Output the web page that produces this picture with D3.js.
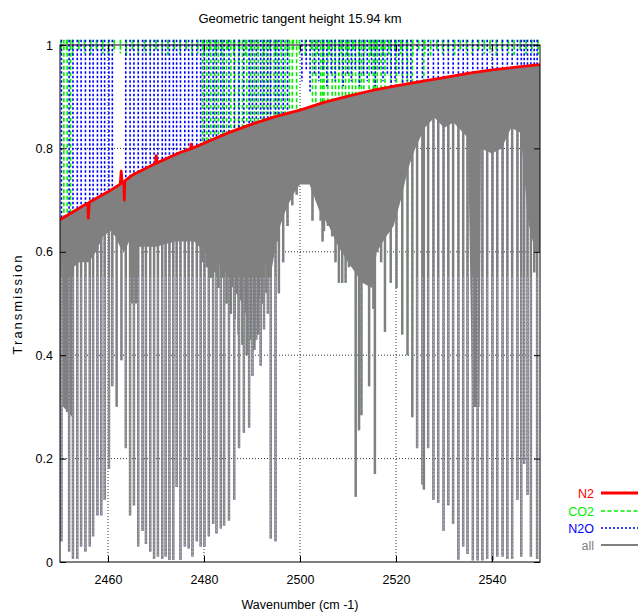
<!DOCTYPE html>
<html>
<head>
<meta charset="utf-8">
<script src="https://cdn.jsdelivr.net/npm/d3@7"></script>
<style>
  body { margin: 0; background: #fff; }
  svg { font-family: "Liberation Sans", Arial, sans-serif; }
</style>
</head>
<body>
<div id="chart"></div>
<script>
// Transmission spectrum, tangent height 15.94 km
// values (wavenumber in cm-1, transmission 0..1)

const xTicks = [2460, 2480, 2500, 2520, 2540];
const yTicks = [0, 0.2, 0.4, 0.6, 0.8, 1];
const yTickLabels = ['0', '0.2', '0.4', '0.6', '0.8', '1'];

// N2 continuum (with its few small lines)
const n2Wn = [2450, 2455, 2455.8, 2455.9, 2456.0, 2456.1, 2460, 2462.55, 2462.75, 2462.95, 2463.3, 2463.4, 2463.5,
  2465, 2469.9, 2470.05, 2470.2, 2475, 2477.2, 2477.35, 2477.5, 2480, 2485, 2490, 2495, 2500, 2505, 2510,
  2515, 2520, 2525, 2530, 2535, 2540, 2545, 2550];
const n2T = [0.662, 0.690, 0.694, 0.665, 0.680, 0.696, 0.716, 0.731, 0.756, 0.733, 0.735, 0.700, 0.737,
  0.748, 0.771, 0.786, 0.772, 0.792, 0.799, 0.808, 0.800, 0.810, 0.830, 0.847, 0.862, 0.874, 0.889, 0.901,
  0.912, 0.921, 0.929, 0.937, 0.945, 0.952, 0.957, 0.962];

// N2O lines: centre and minimum transmission of the combined trace
const n2oWn = [2450.3, 2451.9, 2452.7, 2453.6, 2454.4, 2455.3, 2456.2, 2456.9, 2457.8, 2458.6, 2459.3, 2460.2, 2460.9,
  2463.7, 2464.6, 2465.4, 2466.3, 2467.2, 2467.9, 2468.8, 2469.6, 2470.4, 2471.3,
  2472.0, 2472.8, 2473.6, 2474.3, 2475.1, 2476.0, 2476.8, 2477.6, 2478.5, 2479.3,
  2480.1, 2481.0, 2481.9, 2482.6, 2483.5, 2484.2, 2485.2, 2486.3, 2487.3, 2488.3,
  2489.4, 2490.1, 2490.9, 2491.8, 2492.5, 2493.3, 2493.9, 2494.9, 2495.6, 2496.5, 2497.4,
  2524.4, 2525.5, 2526.7, 2527.8, 2528.8, 2529.9, 2530.9, 2531.9, 2533.0, 2534.0,
  2534.9, 2536.0, 2537.0, 2538.0, 2539.0, 2540.1, 2541.1, 2542.2, 2543.2, 2544.2,
  2545.3, 2546.1, 2546.7, 2547.4, 2548.1, 2548.8, 2549.4];
const n2oMin = [0.04, 0.02, 0.006, 0.006, 0.03, 0.02, 0.03, 0.05, 0.09, 0.09, 0.12, 0.18, 0.34,
  0.22, 0.09, 0.11, 0.03, 0.06, 0.035, 0.02, 0.006, 0.01, 0.006,
  0.01, 0.004, 0.004, 0.145, 0.004, 0.03, 0.026, 0.01, 0.04, 0.03,
  0.03, 0.05, 0.074, 0.055, 0.065, 0.07, 0.08, 0.12, 0.22, 0.25,
  0.26, 0.36, 0.43, 0.38, 0.45, 0.48, 0.045, 0.04, 0.52, 0.58, 0.65,
  0.22, 0.15, 0.22, 0.12, 0.114, 0.06, 0.11, 0.074, 0.005, 0.03,
  0.016, 0.003, 0.003, 0.003, 0.006, 0.003, 0.01, 0.01, 0.006, 0.006,
  0.12, 0.01, 0.19, 0.13, 0.01, 0.56, 0.006];

// weak N2O lines between the two bands (only their upper part shows)
const n2oWeakWn = [2500.4, 2501.3, 2502.1, 2503.0, 2503.9, 2504.8, 2505.6, 2506.5, 2507.3, 2508.2,
  2509.0, 2509.9, 2510.7, 2511.5, 2512.4, 2513.2, 2514.0, 2514.9, 2515.7, 2516.5,
  2517.3, 2518.2, 2519.0, 2519.8, 2520.6, 2521.4, 2522.3, 2523.1];
const n2oWeakMin = [0.93, 0.95, 0.91, 0.94, 0.93, 0.95, 0.92, 0.94, 0.93, 0.95,
  0.92, 0.94, 0.93, 0.95, 0.92, 0.94, 0.93, 0.94, 0.92, 0.95,
  0.93, 0.94, 0.92, 0.93, 0.94, 0.92, 0.93, 0.92];

// CO2 lines
const co2Wn = [2450.8, 2451.5, 2452.2,
  2479.7, 2480.6, 2481.4, 2482.2, 2483.0, 2483.9, 2484.7, 2485.6, 2486.4, 2487.2,
  2488.0, 2488.9, 2489.7, 2490.5, 2491.3, 2492.2, 2493.0, 2493.8, 2494.6, 2495.3,
  2496.1, 2496.9, 2497.8, 2498.4, 2499.3,
  2502.6, 2503.3, 2504.3, 2504.7, 2505.0, 2505.8, 2506.7, 2507.4, 2508.1, 2508.8,
  2509.5, 2510.2, 2510.9, 2511.6, 2512.3, 2512.8, 2513.3, 2514.4, 2515.3, 2515.6,
  2516.1, 2516.9, 2517.7, 2518.9, 2520.1, 2521.3, 2522.4, 2523.4, 2525.8];
const co2Min = [0.30, 0.29, 0.30,
  0.58, 0.57, 0.55, 0.56, 0.53, 0.55, 0.50, 0.48, 0.47, 0.44,
  0.42, 0.40, 0.43, 0.41, 0.44, 0.50, 0.52, 0.55, 0.60, 0.62,
  0.66, 0.68, 0.70, 0.69, 0.71,
  0.66, 0.71, 0.66, 0.62, 0.64, 0.65, 0.63, 0.58, 0.54, 0.54,
  0.54, 0.57, 0.58, 0.126, 0.255, 0.284, 0.56, 0.34, 0.49, 0.17,
  0.60, 0.58, 0.445, 0.54, 0.53, 0.44, 0.40, 0.28, 0.14];

// weak CO2 lines making the fringe along the top
const co2WeakWn = [2450.2, 2451.4, 2452.6, 2453.9, 2455.1, 2456.4, 2457.6, 2458.9, 2460.1, 2461.3,
  2462.6, 2463.8, 2465.1, 2466.3, 2467.6, 2468.8, 2470.0, 2471.3, 2472.5, 2473.8,
  2475.0, 2476.3, 2477.5, 2478.7, 2480.0, 2481.2, 2482.5, 2483.7, 2485.0, 2486.2,
  2487.4, 2488.7, 2489.9, 2491.2, 2492.4, 2493.7, 2494.9, 2496.1, 2497.4, 2498.6,
  2499.9, 2501.1, 2502.4, 2503.6, 2504.8, 2506.1, 2507.3, 2508.6, 2509.8, 2511.1,
  2512.3, 2513.5, 2514.8, 2516.0, 2517.3, 2518.5, 2519.8, 2521.0, 2522.2, 2523.5,
  2524.7, 2526.0, 2527.2, 2528.5, 2529.7, 2530.9, 2532.2, 2533.4, 2534.7, 2535.9,
  2537.2, 2538.4, 2539.6, 2540.9, 2542.1, 2543.4, 2544.6, 2545.9, 2547.1, 2548.3, 2549.6];
const co2WeakMin = [0.982, 0.986, 0.979, 0.988, 0.984, 0.981, 0.987, 0.983, 0.980, 0.986,
  0.984, 0.979, 0.987, 0.982, 0.985, 0.981, 0.988, 0.983, 0.980, 0.986,
  0.982, 0.987, 0.979, 0.984, 0.981, 0.986, 0.983, 0.980, 0.987, 0.982,
  0.985, 0.979, 0.986, 0.983, 0.981, 0.987, 0.982, 0.985, 0.980, 0.986,
  0.983, 0.979, 0.987, 0.982, 0.985, 0.980, 0.986, 0.983, 0.981, 0.987,
  0.982, 0.985, 0.979, 0.986, 0.983, 0.981, 0.987, 0.982, 0.985, 0.980,
  0.986, 0.983, 0.979, 0.987, 0.982, 0.985, 0.980, 0.986, 0.983, 0.981,
  0.987, 0.982, 0.985, 0.979, 0.986, 0.983, 0.980, 0.987, 0.982, 0.985, 0.981];

// lines seen only in the combined trace, near the N2O band centre
const allOnlyWn = [2461.8, 2462.8];
const allOnlyMin = [0.30, 0.39];

// lower edge of the solid band of weak overlapping lines in the combined trace
const floorWn = [2450, 2450.5, 2450.7, 2452.6, 2452.8, 2454, 2456, 2457.5, 2459, 2460.5,
  2461.5, 2462.5, 2463.4, 2464.4, 2464.7, 2466.1, 2466.4, 2470, 2474, 2478,
  2480, 2482, 2484, 2486, 2488, 2489.5, 2491, 2492.5, 2494, 2495.5,
  2497, 2498.5, 2500, 2502, 2504, 2506, 2508, 2510, 2511.5, 2513,
  2515, 2516, 2518, 2519.5, 2521, 2522.5, 2524, 2526, 2528, 2530,
  2532, 2535, 2535.9, 2537.4, 2537.7, 2540, 2542, 2544, 2546, 2547.5, 2549, 2550];
const floorT = [0.60, 0.58, 0.30, 0.28, 0.57, 0.58, 0.58, 0.60, 0.63, 0.64,
  0.63, 0.61, 0.60, 0.62, 0.50, 0.50, 0.61, 0.61, 0.62, 0.62,
  0.60, 0.58, 0.57, 0.53, 0.50, 0.46, 0.47, 0.58, 0.56, 0.64,
  0.68, 0.71, 0.73, 0.73, 0.68, 0.65, 0.61, 0.58, 0.56, 0.54,
  0.53, 0.60, 0.63, 0.65, 0.70, 0.76, 0.80, 0.84, 0.86, 0.84,
  0.85, 0.82, 0.30, 0.30, 0.80, 0.79, 0.80, 0.84, 0.83, 0.66, 0.60, 0.60];

const legendNames = ['N2', 'CO2', 'N2O', 'all'];
const colors = { N2: '#ff0000', CO2: '#00ee00', N2O: '#0000ff', all: '#808080' };

// ---------------------------------------------------------------
const width = 638, height = 612;
const svg = d3.select('#chart').append('svg')
  .attr('width', width)
  .attr('height', height);

const x = d3.scaleLinear().domain([2450, 2550]).range([60, 540]);
const y = d3.scaleLinear().domain([0, 1]).range([562, 45]);
const topT = 1.01;

svg.append('clipPath').attr('id', 'plotclip')
  .append('rect').attr('x', 60).attr('y', 0).attr('width', 480).attr('height', 562);

// grid
const grid = svg.append('g');
grid.selectAll('.gx').data(xTicks).join('line')
  .attr('x1', d => x(d)).attr('x2', d => x(d))
  .attr('y1', y(1)).attr('y2', y(0))
  .attr('stroke', '#000').attr('stroke-width', 0.8).attr('stroke-dasharray', '1,2');
grid.selectAll('.gy').data(yTicks.slice(1, -1)).join('line')
  .attr('x1', x(2450)).attr('x2', x(2550))
  .attr('y1', d => y(d)).attr('y2', d => y(d))
  .attr('stroke', '#000').attr('stroke-width', 0.8).attr('stroke-dasharray', '1,2');

const plot = svg.append('g').attr('clip-path', 'url(#plotclip)');

const pairs = (wn, t) => wn.map((w, i) => ({ wn: w, t: t[i] }));
const n2Pts = pairs(n2Wn, n2T);
const bis = d3.bisector(d => d.wn).right;
function n2At(w) {
  const i = bis(n2Pts, w);
  const a = n2Pts[Math.max(i - 1, 0)], b = n2Pts[Math.min(i, n2Pts.length - 1)];
  if (a.wn === b.wn) return a.t;
  return a.t + (b.t - a.t) * (w - a.wn) / (b.wn - a.wn);
}

function drawLines(g, data, from, color, widthPx, dash) {
  g.selectAll(null).data(data).join('line')
    .attr('x1', d => x(d.wn)).attr('x2', d => x(d.wn))
    .attr('y1', d => y(from(d))).attr('y2', d => y(d.t))
    .attr('stroke', color)
    .attr('stroke-width', widthPx)
    .attr('stroke-dasharray', dash);
}

// CO2 (dashed green)
const gCo2 = plot.append('g');
drawLines(gCo2, pairs(co2WeakWn, co2WeakMin), () => topT, colors.CO2, 1.8, '4,2');
drawLines(gCo2, pairs(co2Wn, co2Min), () => topT, colors.CO2, 1.6, '4,2.5');

// N2O (dotted blue)
const gN2o = plot.append('g');
drawLines(gN2o, pairs(n2oWeakWn, n2oWeakMin), () => topT, colors.N2O, 1.6, '2.5,2');
drawLines(gN2o, pairs(n2oWn, n2oMin), () => topT, colors.N2O, 1.6, '2.5,2');

// all (grey): band of weak lines, then the individual lines
const floorPts = pairs(floorWn, floorT);
const bandPoly = n2Pts.concat(floorPts.slice().reverse());
plot.append('path')
  .attr('d', d3.line().x(d => x(d.wn)).y(d => y(d.t))(bandPoly) + 'Z')
  .attr('fill', colors.all);

const gAll = plot.append('g');
const n2oAll = pairs(n2oWn, n2oMin);
drawLines(gAll, n2oAll.concat(pairs(co2Wn, co2Min), pairs(allOnlyWn, allOnlyMin)),
  d => n2At(d.wn), colors.all, 2.5, null);
// the N2O trace shows faintly through the middle of its grey lines
const seam = n2oAll.filter(d => d.t < 0.5);
drawLines(gAll, seam, d => Math.min(n2At(d.wn), 0.55), '#b9b9d6', 0.8, '2,1.5');

// N2 (red)
plot.append('path')
  .datum(n2Pts)
  .attr('d', d3.line().x(d => x(d.wn)).y(d => y(d.t)))
  .attr('fill', 'none')
  .attr('stroke', colors.N2)
  .attr('stroke-width', 2.8)
  .attr('stroke-linejoin', 'round');

// border and axes
svg.append('rect')
  .attr('x', 60).attr('y', 45).attr('width', 480).attr('height', 517)
  .attr('fill', 'none').attr('stroke', '#000').attr('stroke-width', 1);

const fmtY = d => yTickLabels[yTicks.indexOf(d)];
const axL = svg.append('g').attr('transform', 'translate(60,0)')
  .call(d3.axisLeft(y).tickValues(yTicks).tickFormat(fmtY).tickSizeInner(-6).tickSizeOuter(0).tickPadding(7));
const axB = svg.append('g').attr('transform', 'translate(0,562)')
  .call(d3.axisBottom(x).tickValues(xTicks).tickFormat(d3.format('d')).tickSizeInner(-6).tickSizeOuter(0).tickPadding(13));
const axR = svg.append('g').attr('transform', 'translate(540,0)')
  .call(d3.axisRight(y).tickValues(yTicks).tickFormat('').tickSizeInner(-6).tickSizeOuter(0));
const axT = svg.append('g').attr('transform', 'translate(0,45)')
  .call(d3.axisTop(x).tickValues(xTicks).tickFormat('').tickSizeInner(-6).tickSizeOuter(0));
[axL, axB, axR, axT].forEach(a => {
  a.select('.domain').remove();
  a.selectAll('text').style('font-size', '12.5px').style('fill', '#000')
    .style('font-family', '"Liberation Sans", Arial, sans-serif');
});

// titles
svg.append('text')
  .attr('x', 300).attr('y', 23)
  .attr('text-anchor', 'middle')
  .style('font-size', '13px')
  .text('Geometric tangent height 15.94 km');

svg.append('text')
  .attr('x', 300).attr('y', 609)
  .attr('text-anchor', 'middle')
  .style('font-size', '12.5px')
  .text('Wavenumber (cm -1)');

svg.append('text')
  .attr('transform', 'translate(22,304) rotate(-90)')
  .attr('text-anchor', 'middle')
  .style('font-size', '13px')
  .style('letter-spacing', '2px')
  .text('Transmission');

// legend
const legend = svg.append('g');
const legY = [493, 511, 528, 545];
const legStyle = {
  N2: { w: 3, dash: null },
  CO2: { w: 1.6, dash: '4,2.5' },
  N2O: { w: 1.6, dash: '2,2' },
  all: { w: 2, dash: null }
};
legendNames.forEach((name, i) => {
  legend.append('text')
    .attr('x', 594).attr('y', legY[i] + 4.5)
    .attr('text-anchor', 'end')
    .style('font-size', '12.5px')
    .style('fill', colors[name])
    .text(name);
  legend.append('line')
    .attr('x1', 601).attr('x2', 638)
    .attr('y1', legY[i]).attr('y2', legY[i])
    .attr('stroke', colors[name])
    .attr('stroke-width', legStyle[name].w)
    .attr('stroke-dasharray', legStyle[name].dash);
});
</script>
</body>
</html>
